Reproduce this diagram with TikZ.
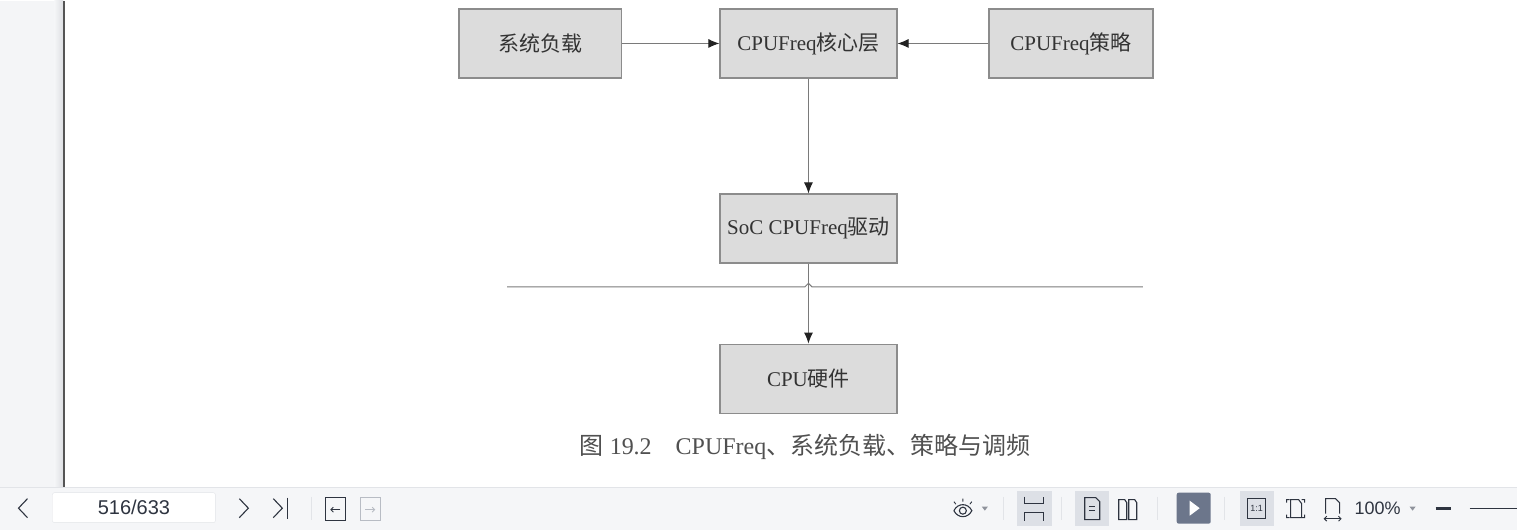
\documentclass[tikz,border=0pt]{standalone}
\usepackage{fontspec}
\setmainfont{Liberation Serif}
\newfontfamily\cjk{Noto Sans CJK SC}
\newfontfamily\uifont{Liberation Sans}
\usetikzlibrary{arrows.meta,positioning}
\definecolor{boxfill}{HTML}{DCDCDC}
\definecolor{boxline}{HTML}{8C8C8C}
\definecolor{linkline}{HTML}{7A7A7A}
\definecolor{tipcol}{HTML}{222222}
\definecolor{boxtext}{HTML}{333333}
\definecolor{captext}{HTML}{505050}
\definecolor{sidegray}{HTML}{F4F5F7}
\definecolor{sideshade}{HTML}{DCDEE2}
\definecolor{frameline}{HTML}{555555}
\definecolor{barbg}{HTML}{F5F6F8}
\definecolor{barline}{HTML}{E2E4E8}
\definecolor{iconcol}{HTML}{2E3440}
\definecolor{iconlight}{HTML}{B8BCC4}
\definecolor{hilite}{HTML}{DDE0E6}
\definecolor{playbg}{HTML}{6C768B}
\tikzset{
  >={Latex[length=11pt,width=9pt,color=tipcol]},
  block/.style={draw=boxline,fill=boxfill,line width=1.2pt,minimum height=69pt,
    inner sep=0pt,text=boxtext,font=\fontsize{21}{24}\selectfont},
  arrow/.style={->,line width=1pt,draw=linkline},
  icon/.style={draw=iconcol,line width=1.1pt},
  sep/.style={draw=barline,line width=1pt},
}

\begin{document}
\begin{tikzpicture}[x=1pt,y=-1pt]
% page and viewer frame
\fill[white] (0,0) rectangle (1517,529);
\fill[sidegray] (0,0) rectangle (63,487);
\shade[left color=sidegray,right color=sideshade] (54,0) rectangle (63,487);
\draw[line width=2pt,frameline] (64,0) -- (64,487);
\fill[barbg] (0,487) rectangle (1517,529);
\draw[barline,line width=1pt] (0,487) -- (1517,487);
\useasboundingbox (0,0) rectangle (1517,529);

% diagram
\node[block,minimum width=177pt] (core) at (808.5,42.5) {CPUFreq{\cjk 核心层}};
\node[block,minimum width=163pt,left=97pt of core] (load) {{\cjk 系统负载}};
\node[block,minimum width=164pt,right=91pt of core] (policy) {CPUFreq{\cjk 策略}};
\node[block,minimum width=177pt,below=115pt of core] (driver) {SoC CPUFreq{\cjk 驱动}};
\node[block,minimum width=177pt,below=80pt of driver] (hw) {CPU{\cjk 硬件}};

\coordinate (busL) at (507,286);
\coordinate (busR) at (1143,286);
\draw[linkline,line width=1pt] (busL) -- (805,286) -- (808.5,282.5) -- (812,286) -- (busR);

\draw[arrow] (load) -- (core);
\draw[arrow] (policy) -- (core);
\draw[arrow] (core) -- (driver);
\draw[arrow] (driver) -- (hw);

\node[text=captext,font=\fontsize{24}{28}\selectfont] (caption) at (805,446)
  {{\cjk 图}\ 19.2\hspace{1em}CPUFreq{\cjk 、系统负载、策略与调频}};

% toolbar, left part
\draw[icon] (27,498) -- (18,507.5) -- (27,517);
\node[draw=barline,fill=white,rounded corners=2pt,minimum width=163pt,minimum height=30pt,
  font=\uifont\fontsize{20}{22}\selectfont,text=iconcol] (page) at (133.5,507) {516/633};
\draw[icon] (239,498) -- (248,507.5) -- (239,517);
\draw[icon] (273,498) -- (282,507.5) -- (273,517);
\draw[icon] (287,497) -- (287,518);
\draw[sep] (311,496) -- (311,519);
\draw[icon,line width=1.2pt] (325.5,497) rectangle (345.5,520);
\draw[icon,-{Straight Barb[length=2.5pt]},line width=0.9pt] (340,509) -- (330,509);
\draw[draw=iconlight,line width=1.1pt] (360,497) rectangle (380,520);
\draw[draw=iconlight,-{Straight Barb[length=2.5pt]},line width=0.9pt] (365,509) -- (375,509);

% toolbar, right part
\draw[icon] (954,510) .. controls (958,502) and (968,502) .. (972,510)
  .. controls (968,518) and (958,518) .. (954,510);
\draw[icon] (963,510) circle (3.5pt);
\draw[icon,line width=0.9pt] (963,498) -- (963,501) (954,501) -- (956,503.5) (972,501) -- (970,503.5);
\fill[iconlight!70!iconcol] (982,506) -- (988,506) -- (985,510) -- cycle;
\draw[sep] (1004,496) -- (1004,519);
\fill[hilite] (1017,490) rectangle (1052,525);
\draw[icon] (1025,496) -- (1025,503) -- (1044,503) -- (1044,496)
  (1025,520) -- (1025,512) -- (1044,512) -- (1044,520);
\draw[sep] (1062,496) -- (1062,519);
\fill[hilite] (1075,490) rectangle (1109,525);
\draw[icon] (1085,497) -- (1096,497) -- (1100,501) -- (1100,519) -- (1085,519) -- cycle;
\draw[icon,line width=0.9pt] (1089,506) -- (1095,506) (1089,510) -- (1095,510);
\draw[icon] (1119,499) -- (1125,499) -- (1127,502) -- (1127,519) -- (1119,519) -- cycle
  (1129,499) -- (1135,499) -- (1137,502) -- (1137,519) -- (1129,519) -- cycle;
\draw[sep] (1158,496) -- (1158,519);
\fill[playbg,rounded corners=2pt] (1177,492) rectangle (1211,523);
\fill[white] (1190,500) -- (1200,507.5) -- (1190,515) -- cycle;
\draw[sep] (1225,496) -- (1225,519);
\fill[hilite] (1240,490) rectangle (1274,525);
\draw[icon] (1248,498) rectangle (1266,518);
\node[font=\uifont\fontsize{9}{10}\selectfont,text=iconcol,inner sep=0pt] (oneone) at (1257,508) {1:1};
\draw[icon] (1290,499) -- (1287,499) -- (1287,502) (1302,499) -- (1305,499) -- (1305,502)
  (1287,514) -- (1287,517) -- (1290,517) (1305,514) -- (1305,517) -- (1302,517)
  (1291,499) -- (1299,499) -- (1302,503) -- (1302,517) -- (1291,517) -- cycle;
\draw[icon] (1326,513) -- (1326,498) -- (1336,498) -- (1340,502) -- (1340,513);
\draw[icon,{Straight Barb[length=2.5pt]}-{Straight Barb[length=2.5pt]},line width=0.9pt] (1324,518) -- (1342,518);
\node[font=\uifont\fontsize{18}{20}\selectfont,text=iconcol,inner sep=0pt] (zoomlevel) at (1378,508) {100\%};
\fill[iconlight!70!iconcol] (1410,506) -- (1416,506) -- (1413,510) -- cycle;
\draw[iconcol,line width=2.5pt] (1436,508) -- (1451,508);
\draw[iconcol,line width=1pt] (1470,508) -- (1517,508);
\end{tikzpicture}
\end{document}
